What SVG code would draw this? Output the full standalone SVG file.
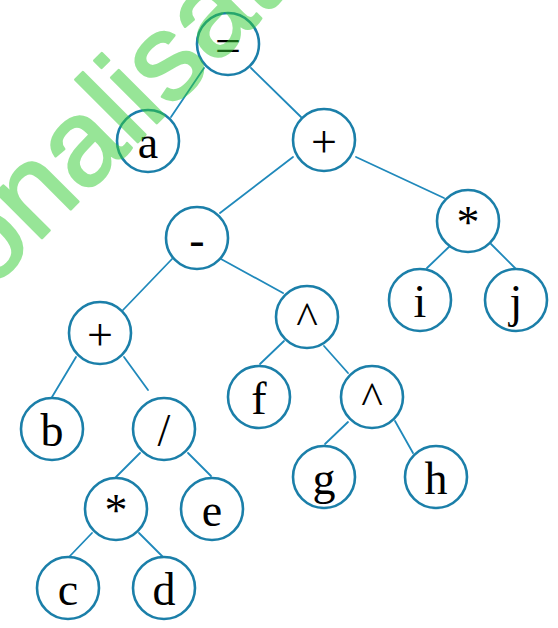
<svg xmlns="http://www.w3.org/2000/svg" width="558" height="628" viewBox="0 0 558 628">
  <style>
    .edge { stroke: #2089bb; stroke-width: 1.8; fill: none; stroke-linecap: round; }
    .node circle { fill: #ffffff; stroke: #1b7fa9; stroke-width: 2.6; }
    .node text { font-family: "Liberation Serif", "Times New Roman", serif; font-size: 46px; fill: #000000; text-anchor: middle; }
    .mark { font-family: "Liberation Sans", Arial, sans-serif; font-size: 122px; fill: #32cd32; stroke: #32cd32; stroke-width: 2.5; stroke-linejoin: round; }
  </style>
  <rect width="558" height="628" fill="#ffffff"/>

  <!-- tree edges -->
  <g id="connectors">
    <line class="edge" x1="204" y1="68" x2="171" y2="117"/>
    <line class="edge" x1="251" y1="68" x2="301" y2="117"/>
    <line class="edge" x1="293" y1="157" x2="220" y2="213"/>
    <line class="edge" x1="356" y1="157" x2="444" y2="198"/>
    <line class="edge" x1="452" y1="244" x2="427" y2="268"/>
    <line class="edge" x1="491" y1="244" x2="515" y2="268"/>
    <line class="edge" x1="172" y1="259" x2="123" y2="310"/>
    <line class="edge" x1="221" y1="259" x2="283" y2="293"/>
    <line class="edge" x1="76" y1="357" x2="52" y2="397"/>
    <line class="edge" x1="124" y1="357" x2="148" y2="390"/>
    <line class="edge" x1="140" y1="453" x2="116" y2="477"/>
    <line class="edge" x1="188" y1="453" x2="211" y2="476"/>
    <line class="edge" x1="92" y1="533" x2="69" y2="557"/>
    <line class="edge" x1="139" y1="533" x2="163" y2="557"/>
    <line class="edge" x1="284" y1="341" x2="260" y2="364"/>
    <line class="edge" x1="324" y1="346" x2="348" y2="373"/>
    <line class="edge" x1="348" y1="422" x2="325" y2="444"/>
    <line class="edge" x1="395" y1="421" x2="413" y2="453"/>
  </g>

  <!-- tree nodes -->
  <g id="n-assign" class="node"><circle cx="228" cy="44" r="31"/><text x="228" y="61">=</text></g>
  <g id="n-a" class="node"><circle cx="148" cy="141" r="31"/><text x="148" y="158">a</text></g>
  <g id="n-plus1" class="node"><circle cx="324" cy="140" r="31"/><text x="324" y="157">+</text></g>
  <g id="n-minus" class="node"><circle cx="197" cy="238" r="31"/><text x="197" y="255">-</text></g>
  <g id="n-mul1" class="node"><circle cx="468" cy="221" r="31"/><text x="468" y="238">*</text></g>
  <g id="n-i" class="node"><circle cx="420" cy="300" r="31"/><text x="420" y="317">i</text></g>
  <g id="n-j" class="node"><circle cx="516" cy="300" r="31"/><text x="516" y="317">j</text></g>
  <g id="n-plus2" class="node"><circle cx="100" cy="333" r="31"/><text x="100" y="350">+</text></g>
  <g id="n-pow1" class="node"><circle cx="307" cy="317" r="31"/><text x="307" y="334">^</text></g>
  <g id="n-b" class="node"><circle cx="52" cy="429" r="31"/><text x="52" y="446">b</text></g>
  <g id="n-div" class="node"><circle cx="164" cy="429" r="31"/><text x="164" y="446">/</text></g>
  <g id="n-f" class="node"><circle cx="259" cy="397" r="31"/><text x="259" y="414">f</text></g>
  <g id="n-pow2" class="node"><circle cx="372" cy="397" r="31"/><text x="372" y="414">^</text></g>
  <g id="n-mul2" class="node"><circle cx="116" cy="509" r="31"/><text x="116" y="526">*</text></g>
  <g id="n-e" class="node"><circle cx="212" cy="509" r="31"/><text x="212" y="526">e</text></g>
  <g id="n-g" class="node"><circle cx="324" cy="477" r="31"/><text x="324" y="494">g</text></g>
  <g id="n-h" class="node"><circle cx="436" cy="477" r="31"/><text x="436" y="494">h</text></g>
  <g id="n-c" class="node"><circle cx="68" cy="588" r="31"/><text x="68" y="605">c</text></g>
  <g id="n-d" class="node"><circle cx="164" cy="588" r="31"/><text x="164" y="605">d</text></g>

  <!-- translucent diagonal overlay text -->
  <g opacity="0.5">
    <text class="mark" transform="translate(-12,292) rotate(-45)">onalisat</text>
  </g>
</svg>
